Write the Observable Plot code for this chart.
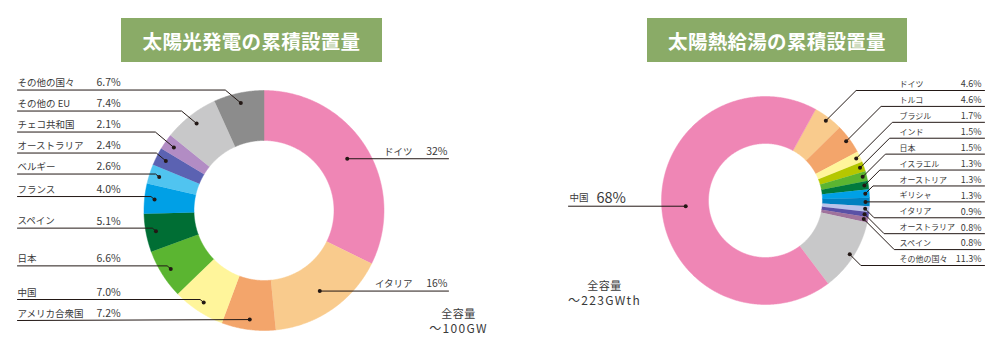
<!DOCTYPE html>
<html><head><meta charset="utf-8">
<script src="https://cdn.jsdelivr.net/npm/d3@7"></script>
<script src="https://cdn.jsdelivr.net/npm/@observablehq/plot@0.6"></script>
<style>
body{margin:0;background:#fff;}
#wrap{position:relative;width:1000px;height:352px;overflow:hidden;}
.title{position:absolute;top:18px;height:44px;background:#8aab67;color:#fff;
  font-family:"Noto Sans CJK JP",sans-serif;font-weight:700;font-size:19.5px;
  display:flex;align-items:center;justify-content:center;letter-spacing:0.3px;}
</style></head>
<body><div id="wrap"></div>
<script>
// ---------- data ----------
const pvTitle = "太陽光発電の累積設置量";
const pvCountries = ["ドイツ","イタリア","アメリカ合衆国","中国","日本","スペイン","フランス","ベルギー","オーストラリア","チェコ共和国","その他の EU","その他の国々"];
const pvShares = [32, 16, 7.2, 7.0, 6.6, 5.1, 4.0, 2.6, 2.4, 2.1, 7.4, 6.7];
const pvColors = ["#ef86b5","#f9cb8d","#f3a56b","#fff59b","#5bb531","#006e34","#00a0e6","#50c4f0","#5b62b2","#b28cc4","#c8c8c9","#8c8c8c"];
const pvTotal = ["全容量", "～100GW"];

const shTitle = "太陽熱給湯の累積設置量";
const shCountries = ["ドイツ","トルコ","ブラジル","インド","日本","イスラエル","オーストリア","ギリシャ","イタリア","オーストラリア","スペイン","その他の国々","中国"];
const shShares = [4.6, 4.6, 1.7, 1.5, 1.5, 1.3, 1.3, 1.3, 0.9, 0.8, 0.8, 11.3, 68];
const shColors = ["#f9cb8d","#f3a56b","#fff59b","#b5c700","#5bb531","#007a3d","#00a0e6","#0080c0","#b9c3ea","#5a51a6","#a0739c","#c8c8c9","#ef86b5"];
const shTotal = ["全容量", "～223GWth"];

// ---------- layout ----------
const W = 1000, H = 352;
const rad = Math.PI / 180;
const pvLayout = {
  tag: "pv", cx: 263.5, cy: 210, R: 120, r: 70, start: 0,
  dotR: {left: 110, right: 98},
  place: {left: {type: "away", gap: 21, offset: -3, slope: 1.2}, right: {type: "flat"}},
  sides: {
    left:  {lineX: 17,  nameX: 17,  nameAnchor: "start", nameSize: 9.5, pctX: 96,  pctAnchor: "start", pctSize: 10.5, textDy: 7},
    right: {lineX: 448, nameX: 412, nameAnchor: "end",   nameSize: 9.5, pctX: 447, pctAnchor: "end",   pctSize: 10.5, textDy: 7}
  },
  note: {dx: 194.5, dy: [104, 119]}
};
const shLayout = {
  tag: "sh", cx: 765, cy: 200, R: 104, r: 57, start: 28.8,
  dotR: {left: 80, right: 100},
  place: {left: {type: "flat"}, right: {type: "point", top: 90, bottom: 265, slope: 1.0}},
  sides: {
    left:  {lineX: 568, nameX: 569, nameAnchor: "start", nameSize: 9.5, pctX: 596, pctAnchor: "start", pctSize: 14.5, textDy: 8},
    right: {lineX: 984, nameX: 899, nameAnchor: "start", nameSize: 8,   pctX: 981, pctAnchor: "end",   pctSize: 9,    textDy: 6}
  },
  note: {dx: -161, dy: [86, 101]}
};

const fmt = v => (Number.isInteger(v) && v >= 10) ? `${v}%` : `${v.toFixed(1)}%`;

function buildDonut(names, values, colors, L) {
  const arcs = d3.pie().sort(null).value(d => d)
    .startAngle(L.start * rad).endAngle(L.start * rad + 2 * Math.PI)(values);
  const pts = [];
  const items = arcs.map((a, i) => {
    const key = L.tag + i;
    const n = Math.max(2, Math.ceil((a.endAngle - a.startAngle) / (0.4 * rad)));
    for (let k = 0; k <= n; k++) {
      const t = a.startAngle + (a.endAngle - a.startAngle) * k / n;
      pts.push({key, color: colors[i], x: L.cx + L.R * Math.sin(t), y: L.cy - L.R * Math.cos(t)});
    }
    for (let k = n; k >= 0; k--) {
      const t = a.startAngle + (a.endAngle - a.startAngle) * k / n;
      pts.push({key, color: colors[i], x: L.cx + L.r * Math.sin(t), y: L.cy - L.r * Math.cos(t)});
    }
    const mid = (a.startAngle + a.endAngle) / 2;
    const side = Math.sin(mid) >= 0 ? "right" : "left";
    const dr = L.dotR[side];
    return {key, name: names[i], pct: fmt(values[i]), side,
            dotX: L.cx + dr * Math.sin(mid), dotY: L.cy - dr * Math.cos(mid)};
  });

  // label placement per side
  for (const side of ["left", "right"]) {
    const P = L.place[side];
    const list = items.filter(d => d.side === side).sort((a, b) => a.dotY - b.dotY);
    if (P.type === "flat") list.forEach(d => d.labelY = d.dotY);
    else if (P.type === "point") {
      const s = d3.scalePoint().domain(d3.range(list.length)).range([P.top, P.bottom]);
      list.forEach((d, i) => d.labelY = s(i));
    } else {
      // push labels away from the horizontal centre line to keep a minimum gap
      list.forEach(d => d.labelY = d.dotY + P.offset);
      const upper = list.filter(d => d.dotY < L.cy), lower = list.filter(d => d.dotY >= L.cy);
      for (let i = upper.length - 2; i >= 0; i--)
        upper[i].labelY = Math.min(upper[i].labelY, upper[i + 1].labelY - P.gap);
      if (upper.length && lower.length)
        lower[0].labelY = Math.max(lower[0].labelY, upper[upper.length - 1].labelY + P.gap);
      for (let i = 1; i < lower.length; i++)
        lower[i].labelY = Math.max(lower[i].labelY, lower[i - 1].labelY + P.gap);
    }
  }

  const leaders = [], dots = [];
  items.forEach(d => {
    const S = L.sides[d.side], P = L.place[d.side];
    const sign = d.side === "right" ? 1 : -1;
    const dy = Math.abs(d.labelY - d.dotY);
    leaders.push({id: d.key, x: d.dotX, y: d.dotY});
    if (dy > 1.5) leaders.push({id: d.key, x: d.dotX + sign * dy * (P.slope || 1), y: d.labelY});
    leaders.push({id: d.key, x: S.lineX, y: d.labelY});
    dots.push({x: d.dotX, y: d.dotY});
  });

  const textMarks = [];
  for (const side of ["left", "right"]) {
    const S = L.sides[side];
    const list = items.filter(d => d.side === side);
    if (!list.length) continue;
    textMarks.push(Plot.text(list, {x: () => S.nameX, y: d => d.labelY - S.textDy, text: "name",
      textAnchor: S.nameAnchor, fontSize: S.nameSize, fill: "#3a3a3a"}));
    textMarks.push(Plot.text(list, {x: () => S.pctX, y: d => d.labelY - S.textDy, text: "pct",
      textAnchor: S.pctAnchor, fontSize: S.pctSize, fill: "#3a3a3a"}));
  }
  return {pts, leaders, dots, textMarks};
}

const pv = buildDonut(pvCountries, pvShares, pvColors, pvLayout);
const sh = buildDonut(shCountries, shShares, shColors, shLayout);

const notes = [
  {t: pvTotal[0], x: pvLayout.cx + pvLayout.note.dx, y: pvLayout.cy + pvLayout.note.dy[0], big: false},
  {t: pvTotal[1], x: pvLayout.cx + pvLayout.note.dx, y: pvLayout.cy + pvLayout.note.dy[1], big: true},
  {t: shTotal[0], x: shLayout.cx + shLayout.note.dx, y: shLayout.cy + shLayout.note.dy[0], big: false},
  {t: shTotal[1], x: shLayout.cx + shLayout.note.dx, y: shLayout.cy + shLayout.note.dy[1], big: true}
];

const chart = Plot.plot({
  width: W, height: H, margin: 0,
  x: {domain: [0, W], range: [0, W], axis: null},
  y: {domain: [0, H], range: [0, H], axis: null},
  color: {type: "identity"},
  style: {fontFamily: '"Noto Sans CJK JP", "Noto Sans", sans-serif', background: "white", overflow: "visible"},
  marks: [
    Plot.line([...pv.pts, ...sh.pts], {x: "x", y: "y", z: "key", fill: "color", stroke: "color", strokeWidth: 0.5, curve: "linear"}),
    Plot.line([...pv.leaders, ...sh.leaders], {x: "x", y: "y", z: "id", stroke: "#231815", strokeWidth: 1, curve: "linear"}),
    Plot.dot([...pv.dots, ...sh.dots], {x: "x", y: "y", r: 2, fill: "#231815", stroke: "none"}),
    ...pv.textMarks, ...sh.textMarks,
    Plot.text(notes.filter(d => !d.big), {x: "x", y: "y", text: "t", fontSize: 11, fill: "#3a3a3a"}),
    Plot.text(notes.filter(d => d.big), {x: "x", y: "y", text: "t", fontSize: 12, fill: "#3a3a3a"})
  ]
});

chart.querySelectorAll("text").forEach(t => {
  if (t.textContent.startsWith("～")) t.style.letterSpacing = "1.3px";
  if (t.textContent === "全容量") t.style.letterSpacing = "0.5px";
});

const wrap = document.getElementById("wrap");
wrap.appendChild(chart);
function addTitle(text, left, width) {
  const d = document.createElement("div");
  d.className = "title"; d.textContent = text;
  d.style.left = left + "px"; d.style.width = width + "px";
  wrap.appendChild(d);
}
addTitle(pvTitle, 121, 261);
addTitle(shTitle, 647, 260);
</script>
</body></html>
